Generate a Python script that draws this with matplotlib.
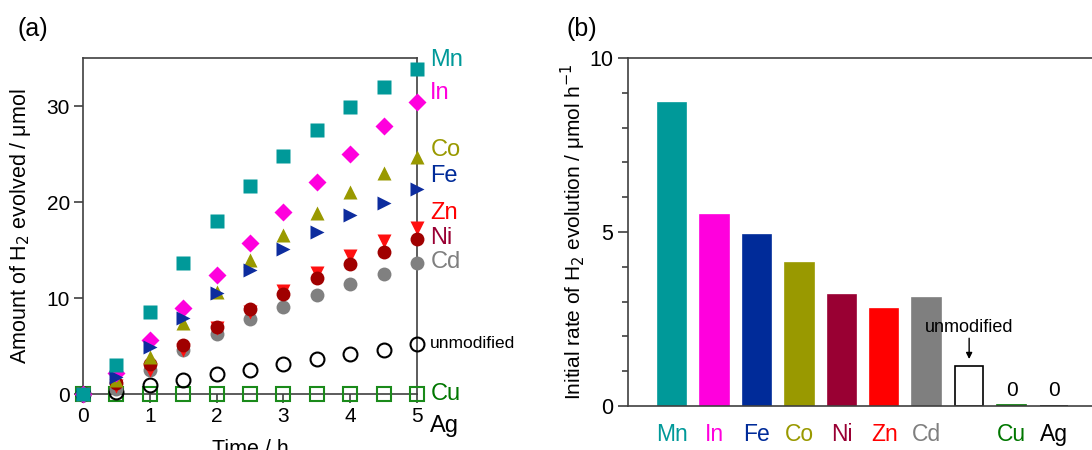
import matplotlib.pyplot as plt
from matplotlib.ticker import MultipleLocator

plt.rcParams['font.family'] = ['Liberation Sans', 'DejaVu Sans']

# panel (a): H2 evolved vs time
time_h = [0, 0.5, 1, 1.5, 2, 2.5, 3, 3.5, 4, 4.5, 5]
mn = [0, 3.0, 8.5, 13.6, 18.0, 21.7, 24.8, 27.5, 29.9, 32.0, 33.9]
in_ = [0, 2.2, 5.6, 9.0, 12.4, 15.7, 19.0, 22.1, 25.0, 27.9, 30.4]
co = [0, 1.5, 3.9, 7.4, 10.6, 14.0, 16.6, 18.9, 21.0, 23.0, 24.7]
fe = [0, 1.8, 4.9, 7.9, 10.5, 12.9, 15.1, 16.9, 18.6, 19.9, 21.4]
zn = [0, 0.8, 2.5, 4.6, 6.9, 8.5, 10.7, 12.6, 14.4, 15.9, 17.3]
ni = [0, 1.1, 3.1, 5.1, 7.0, 8.9, 10.4, 12.1, 13.5, 14.8, 16.1]
cd = [0, 0.5, 2.5, 4.6, 6.3, 7.8, 9.1, 10.3, 11.5, 12.5, 13.6]
unmod = [0, 0.2, 0.9, 1.5, 2.1, 2.5, 3.1, 3.6, 4.2, 4.6, 5.2]
cu = [0, 0, 0, 0, 0, 0, 0, 0, 0, 0, 0]

# panel (b): initial rates
metals = ['Mn', 'In', 'Fe', 'Co', 'Ni', 'Zn', 'Cd', 'unmodified', 'Cu', 'Ag']
rates = [8.7, 5.5, 4.9, 4.1, 3.2, 2.8, 3.1, 1.15, 0.02, 0.0]

C = {'Mn': '#009999', 'In': '#ff00dd', 'Fe': '#002b99', 'Co': '#999900',
     'Ni': '#990033', 'Zn': '#ff0000', 'Cd': '#7f7f7f', 'Cu': '#007700',
     'Ag': '#000000', 'unmodified': '#ffffff'}
spine_c = '#404040'

fig = plt.figure(figsize=(10.92, 4.5), dpi=100)

# ---------------- (a)
ax = fig.add_axes([83/1092, 56/450, 334/1092, 336/450])
ax.set_xlim(0, 5)
ax.set_ylim(0, 35)
ms = 10
kw = dict(linestyle='none', clip_on=False)
ax.plot(time_h, cu, marker='s', ms=ms, mfc='none', mec='#1a8a1a', mew=1.5, zorder=3, **kw)
ax.plot(time_h, unmod, marker='o', ms=ms, mfc='none', mec='black', mew=1.5, zorder=3, **kw)
ax.plot(time_h, cd, marker='o', ms=ms, color='#808080', mec='none', zorder=4, **kw)
ax.plot(time_h, zn, marker='v', ms=ms, color='#ff1010', mec='none', zorder=5, **kw)
ax.plot(time_h, ni, marker='o', ms=ms, color='#a00000', mec='none', zorder=6, **kw)
ax.plot(time_h, co, marker='^', ms=ms, color='#999900', mec='none', zorder=7, **kw)
ax.plot(time_h, in_, marker='D', ms=9, color='#ff00dd', mec='none', zorder=8, **kw)
ax.plot(time_h, fe, marker='>', ms=ms, color='#0d2c9e', mec='none', zorder=9, **kw)
ax.plot(time_h, mn, marker='s', ms=ms, color='#009999', mec='none', zorder=10, **kw)

for s in ax.spines.values():
    s.set_color(spine_c)
    s.set_linewidth(1.2)
ax.set_xticks([0, 1, 2, 3, 4, 5])
ax.set_yticks([0, 10, 20, 30])
ax.tick_params(direction='out', length=6.5, width=1.2, color=spine_c, labelsize=15, pad=3)
ax.set_xlabel('Time / h', fontsize=15.5)
ax.xaxis.set_label_coords(0.5, -0.135)
ax.set_ylabel('Amount of H$_2$ evolved / μmol', fontsize=15.5)
ax.yaxis.set_label_coords(-0.15, 0.5)

lbl_x = 5.2
labels_a = [('Mn', 34.8, C['Mn']), ('In', 31.4, C['In']), ('Co', 25.4, C['Co']),
            ('Fe', 22.7, C['Fe']), ('Zn', 18.9, C['Zn']), ('Ni', 16.3, C['Ni']),
            ('Cd', 13.8, C['Cd']), ('Cu', 0, C['Cu']), ('Ag', -3.3, 'black')]
for name, yy, col in labels_a:
    ax.text(lbl_x, yy, name, color=col, fontsize=17, va='center', ha='left', clip_on=False)
ax.text(lbl_x, 5.3, 'unmodified', color='black', fontsize=12.5, va='center', ha='left', clip_on=False)

fig.text(0.030, 0.935, '(a)', fontsize=18, ha='center', va='center')
fig.text(0.533, 0.935, '(b)', fontsize=18, ha='center', va='center')

# ---------------- (b)
bx = fig.add_axes([628/1092, 44/450, 470/1092, 348/450])
pos = list(range(len(metals)))
fills = [C[m] for m in metals]
edges = [C[m] for m in metals]
edges[7] = 'black'
bars = bx.bar(pos, rates, width=0.67, color=fills, edgecolor=edges, linewidth=1.2, zorder=2)
bx.set_xlim(-1.035, 10.035)
bx.set_ylim(0, 10)
bx.yaxis.set_major_locator(MultipleLocator(5))
bx.yaxis.set_minor_locator(MultipleLocator(1))
for s in bx.spines.values():
    s.set_color(spine_c)
    s.set_linewidth(1.2)
bx.tick_params(axis='y', which='major', direction='out', length=7, width=1.2, color=spine_c, labelsize=15.5)
bx.tick_params(axis='y', which='minor', direction='out', length=4, width=1.2, color=spine_c)
bx.set_xticks(pos)
bx.set_xticklabels([m if m != 'unmodified' else '' for m in metals], fontsize=16.5)
bx.tick_params(axis='x', length=0, pad=12)
for t, m in zip(bx.get_xticklabels(), metals):
    t.set_color(C[m] if m != 'Ag' else 'black')
bx.set_ylabel('Initial rate of H$_2$ evolution / μmol h$^{−1}$', fontsize=15)
bx.yaxis.set_label_coords(-0.085, 0.5)

for i, m in enumerate(metals):
    if rates[i] < 0.1:
        bx.text(i, 0.45, '0', fontsize=15, ha='center', va='center')

bx.annotate('unmodified', xy=(7, 1.35), xytext=(7, 2.27), fontsize=13,
            ha='center', va='center',
            arrowprops=dict(arrowstyle='-|>', color='black', lw=1, shrinkA=0, shrinkB=0,
                            mutation_scale=9))

fig.savefig('out.png', dpi=100)
